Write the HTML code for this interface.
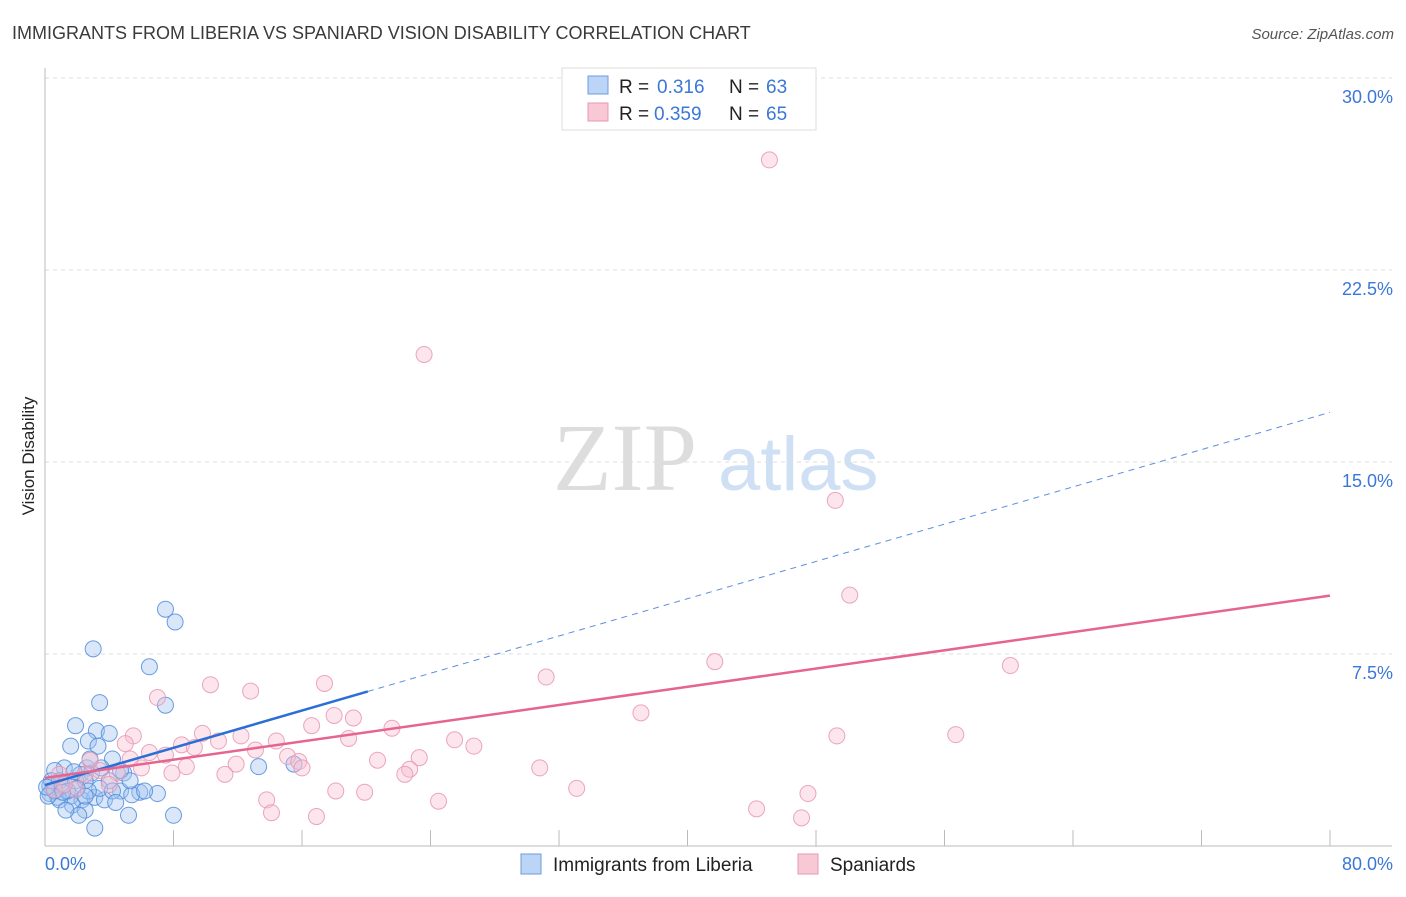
<!DOCTYPE html>
<html><head><meta charset="utf-8"><style>
body{margin:0;background:#fff;font-family:"Liberation Sans",sans-serif;}
svg text{font-family:"Liberation Sans",sans-serif;}
</style></head><body>
<svg id="chart" width="1406" height="892">
<text x="12" y="39" font-size="18" fill="#3a3a3a">IMMIGRANTS FROM LIBERIA VS SPANIARD VISION DISABILITY CORRELATION CHART</text>
<text x="1394" y="39" font-size="15" fill="#555" font-style="italic" text-anchor="end">Source: ZipAtlas.com</text>
<text x="34" y="456" font-size="17" fill="#222" transform="rotate(-90 34 456)" text-anchor="middle">Vision Disability</text>
<g>
<text x="553" y="490" font-size="96" fill="#ddd" font-family="Liberation Serif" style="font-family:'Liberation Serif',serif">ZIP</text>
<text x="718" y="490" font-size="76" fill="#cfe0f5">atlas</text>
</g>
<g id="grid"></g><g id="axes"></g><g id="pts"></g><g id="lines"></g>
<g>
<rect x="562" y="68" width="254" height="62" fill="#fff" stroke="#ddd"/>
<rect x="588" y="76" width="20" height="18" fill="#bcd4f5" stroke="#6d9be0"/>
<rect x="588" y="103" width="20" height="18" fill="#f8c8d6" stroke="#e898b0"/>
<text x="619" y="93" font-size="19" fill="#222">R =</text>
<text x="657" y="93" font-size="19" fill="#3a78d6">0.316</text>
<text x="729" y="93" font-size="19" fill="#222">N =</text>
<text x="766" y="93" font-size="19" fill="#3a78d6">63</text>
<text x="619" y="120" font-size="19" fill="#222">R =</text>
<text x="654" y="120" font-size="19" fill="#3a78d6">0.359</text>
<text x="729" y="120" font-size="19" fill="#222">N =</text>
<text x="766" y="120" font-size="19" fill="#3a78d6">65</text>
</g>
<g>
<rect x="521" y="854" width="20" height="20" fill="#bcd4f5" stroke="#6d9be0"/>
<text x="553" y="871" font-size="19" fill="#222">Immigrants from Liberia</text>
<rect x="798" y="854" width="20" height="20" fill="#f8c8d6" stroke="#e898b0"/>
<text x="830" y="871" font-size="19" fill="#222">Spaniards</text>
</g>
</svg>
<script>
const yTicks=[7.5,15,22.5,30];
const yTickLabels=["7.5%","15.0%","22.5%","30.0%"];
const xTickLabels=["0.0%","80.0%"];
const blueX=[7.5,8.1,3.0,6.5,3.4,7.5,1.9,3.2,4.0,2.7,1.6,3.3,4.2,4.9,2.6,1.2,0.6,2.2,2.9,0.9,1.9,0.3,1.1,2.5,4.0,4.7,5.9,7.0,0.3,0.8,1.6,2.3,3.1,3.7,5.4,6.2,1.7,2.5,0.9,2.1,5.2,8.0,3.1,13.3,15.5,1.4,0.6,3.4,4.2,2.7,1.1,0.2,0.4,2.0,4.7,3.5,2.8,5.3,1.3,4.4,0.1,2.5,1.8];
const blueY=[9.25,8.75,7.7,7.0,5.6,5.5,4.7,4.5,4.4,4.1,3.9,3.9,3.4,2.85,3.05,3.05,2.95,2.8,2.85,2.55,2.55,2.35,2.35,2.55,2.55,2.15,2.1,2.05,2.05,1.9,1.95,1.8,1.9,1.8,2.0,2.15,1.6,1.4,1.8,1.2,1.2,1.2,0.7,3.1,3.2,2.15,2.15,2.25,2.15,2.15,2.1,1.95,2.55,2.25,2.95,3.05,3.4,2.55,1.4,1.7,2.3,1.95,2.9];
const pinkX=[45.1,23.6,49.2,50.1,41.7,60.1,31.2,10.3,17.4,7.0,12.8,37.1,18.0,19.2,16.6,21.6,9.8,12.2,5.5,49.3,56.7,18.9,14.4,25.5,26.7,8.5,5.0,10.8,6.5,9.3,7.5,13.1,15.1,20.7,23.3,15.8,11.9,8.8,16.0,22.7,6.0,30.8,22.4,11.2,7.9,4.5,33.1,18.1,19.9,47.5,13.8,24.5,44.3,14.1,16.9,47.1,3.4,2.8,0.9,1.9,4.0,0.6,2.5,5.3,1.2];
const pinkY=[26.8,19.2,13.5,9.8,7.2,7.05,6.6,6.3,6.35,5.8,6.05,5.2,5.1,5.0,4.7,4.6,4.4,4.3,4.3,4.3,4.35,4.2,4.1,4.15,3.9,3.95,4.0,4.1,3.65,3.85,3.55,3.75,3.5,3.35,3.45,3.3,3.2,3.1,3.05,3.0,3.05,3.05,2.8,2.8,2.85,2.85,2.25,2.15,2.1,2.05,1.8,1.75,1.45,1.3,1.15,1.1,2.95,3.35,2.8,2.2,2.4,2.2,2.8,3.4,2.4];
const blueLine=[2.38,0.182]; // intercept, slope
const pinkLine=[2.66,0.089];
const xMaxSolidBlue=20.1;
const X=v=>45+v*1285/80, Y=v=>846-v*25.6;
const NS="http://www.w3.org/2000/svg";
function mk(p,t,a){const e=document.createElementNS(NS,t);for(const k in a)e.setAttribute(k,a[k]);document.getElementById(p).appendChild(e);return e;}
yTicks.forEach((t,i)=>{
 const l=mk('grid','line',{x1:45,x2:1392,y1:Y(t),y2:Y(t),stroke:'#ddd','stroke-dasharray':'4,4'});
 
 
 const tx=mk('grid','text',{x:1393,y:Y(t)+25,'font-size':18,fill:'#3a78d6','text-anchor':'end'});
 tx.textContent=yTickLabels[i];
 
 
});
let a=mk('axes','line',{x1:45,x2:45,y1:68,y2:846,stroke:'#bbb'});


a=mk('axes','line',{x1:45,x2:1392,y1:846,y2:846,stroke:'#bbb'});


for(let i=1;i<=10;i++){const t=mk('axes','line',{x1:X(i*8),x2:X(i*8),y1:830,y2:846,stroke:'#bbb'});
 
 }
let t0=mk('axes','text',{x:45,y:870,'font-size':18,fill:'#3a78d6'});t0.textContent=xTickLabels[0];


t0=mk('axes','text',{x:1393,y:870,'font-size':18,fill:'#3a78d6','text-anchor':'end'});t0.textContent=xTickLabels[1];


blueX.forEach((x,i)=>{const c=mk('pts','circle',{cx:X(x),cy:Y(blueY[i]),r:8,fill:'rgba(160,195,240,0.4)',stroke:'rgba(80,140,220,0.85)','stroke-width':1});
 
 });
pinkX.forEach((x,i)=>{const c=mk('pts','circle',{cx:X(x),cy:Y(pinkY[i]),r:8,fill:'rgba(248,190,208,0.4)',stroke:'rgba(232,150,178,0.85)','stroke-width':1});
 
 });
const f=(L,x)=>L[0]+L[1]*x;
let ln=mk('lines','line',{x1:X(0),y1:Y(f(blueLine,0)),x2:X(xMaxSolidBlue),y2:Y(f(blueLine,xMaxSolidBlue)),stroke:'#2a6fd6','stroke-width':2.5});


ln=mk('lines','line',{x1:X(xMaxSolidBlue),y1:Y(f(blueLine,xMaxSolidBlue)),x2:X(80),y2:Y(f(blueLine,80)),stroke:'#5b8fdc','stroke-width':1,'stroke-dasharray':'6,5'});


ln=mk('lines','line',{x1:X(0),y1:Y(f(pinkLine,0)),x2:X(80),y2:Y(f(pinkLine,80)),stroke:'#e56590','stroke-width':2.5});


</script>
</body></html>
